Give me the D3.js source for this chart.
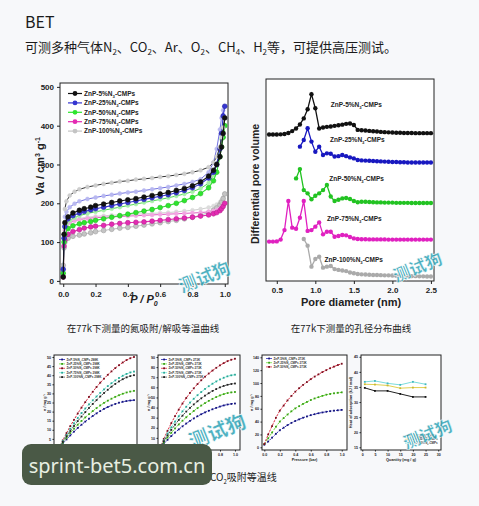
<!DOCTYPE html>
<html>
<head>
<meta charset="utf-8">
<script src="https://cdn.jsdelivr.net/npm/d3@7"></script>
<style>
  body { margin: 0; background: #f7f8fa; }
  svg { display: block; }
</style>
</head>
<body>
<script>
// ---------- data ----------
// N2 isotherms at 77 K (adsorption / desorption branches)
var isoNames = ["ZnP-5%N₃-CMPs", "ZnP-25%N₃-CMPs", "ZnP-50%N₃-CMPs", "ZnP-75%N₃-CMPs", "ZnP-100%N₃-CMPs"];
var isoTicksX = [0, 0.2, 0.4, 0.6, 0.8, 1.0];
var isoTicksY = [0, 100, 200, 300, 400, 500];
var adsP = [0, 0.005, 0.01, 0.03, 0.06, 0.1, 0.13, 0.17, 0.2, 0.25, 0.3, 0.35, 0.4, 0.45, 0.5, 0.55, 0.6, 0.65, 0.7, 0.75, 0.8, 0.85, 0.9, 0.93, 0.95, 0.97, 0.98, 0.99, 1.0];
var ads5 = [10, 120, 150, 165, 175, 182, 186, 190, 194, 198, 202, 206, 209, 212, 216, 220, 224, 228, 233, 238, 245, 255, 270, 285, 300, 320, 345, 380, 420];
var ads25 = [30, 110, 140, 160, 168, 175, 179, 183, 186, 190, 194, 198, 202, 206, 210, 214, 218, 222, 227, 233, 240, 250, 265, 280, 300, 340, 380, 425, 450];
var ads50 = [20, 100, 120, 135, 142, 147, 150, 153, 156, 160, 164, 168, 172, 176, 180, 184, 189, 194, 200, 207, 215, 225, 240, 258, 280, 320, 345, 370, 400];
var ads75 = [10, 90, 105, 120, 127, 132, 136, 139, 141, 143, 146, 148, 150, 151, 152, 154, 156, 158, 160, 162, 164, 167, 170, 173, 176, 181, 186, 192, 200];
var ads100 = [40, 85, 100, 110, 115, 118, 121, 124, 127, 130, 133, 136, 138, 141, 144, 147, 150, 153, 156, 160, 164, 169, 176, 182, 188, 196, 203, 212, 224];
var desP = [1.0, 0.99, 0.98, 0.97, 0.95, 0.93, 0.9, 0.85, 0.8, 0.75, 0.7, 0.65, 0.6, 0.55, 0.5, 0.45, 0.4, 0.35, 0.3, 0.25, 0.2, 0.15, 0.1, 0.07, 0.04, 0.02, 0.01];
var des5 = [420, 395, 370, 345, 320, 305, 293, 285, 280, 276, 273, 270, 268, 265, 263, 261, 258, 256, 253, 250, 246, 242, 236, 230, 220, 205, 185];
var des25 = [450, 440, 420, 390, 340, 305, 280, 262, 255, 250, 246, 242, 239, 236, 233, 230, 228, 225, 222, 219, 215, 211, 205, 199, 190, 178, 165];
var des50 = [400, 385, 365, 340, 300, 272, 252, 238, 230, 224, 219, 214, 210, 206, 202, 198, 194, 190, 186, 182, 178, 174, 168, 163, 156, 148, 138];
var des75 = [200, 195, 190, 186, 182, 180, 178, 176, 175, 174, 173, 172, 171, 170, 169, 168, 167, 166, 165, 164, 163, 161, 158, 155, 150, 142, 130];
var des100 = [224, 215, 208, 203, 197, 193, 189, 185, 182, 180, 178, 176, 175, 174, 173, 172, 171, 170, 169, 168, 166, 164, 161, 158, 153, 145, 132];

// pore size distribution (curves offset vertically, arbitrary units)
var poreTicks = [0.5, 1.0, 1.5, 2.0, 2.5];
var poreDiam = [0.40, 0.45, 0.50, 0.55, 0.60, 0.65, 0.70, 0.75, 0.80, 0.85, 0.90, 0.95, 1.00, 1.05, 1.10, 1.15, 1.20, 1.25, 1.30, 1.35, 1.40, 1.45, 1.50, 1.55, 1.60, 1.65, 1.70, 1.75, 1.80, 1.85, 1.90, 1.95, 2.00, 2.05, 2.10, 2.15, 2.20, 2.25, 2.30, 2.35, 2.40, 2.45, 2.50];
var psd5 = [72.5, 72.5, 72.5, 72.6, 72.8, 73.3, 74.2, 75.5, 77.5, 80.5, 85, 92.5, 85.5, 75.5, 76, 76.3, 76.5, 76.8, 77.1, 77.4, 77.8, 78, 77.2, 74.8, 74.6, 74.5, 74.3, 74.1, 74, 73.8, 73.7, 73.6, 73.5, 73.4, 73.4, 73.3, 73.3, 73.3, 73.2, 73.2, 73.2, 73.2, 73.2];
var psd25 = [null, null, null, null, null, null, null, null, 66.5, 69.8, 75.6, 69, 64, 66.5, 62.4, 63.2, 63, 61.6, 61.8, 62.4, 61.8, 61.2, 60.7, 59.9, 59.7, 59.6, 59.5, 59.4, 59.3, 59.2, 59.1, 59.0, 58.9, 58.9, 58.8, 58.8, 58.7, 58.7, 58.7, 58.7, 58.7, 58.7, 58.7];
var psd50 = [null, null, null, null, null, null, null, 50.8, 55.4, 45, 43.4, 40.5, 42.2, 43.4, 45, 47.5, 41.8, 39.6, 40.2, 40.9, 41.1, 40.6, 39.6, 39.0, 39.2, 39.2, 39.1, 39.0, 38.9, 38.9, 38.8, 38.8, 38.8, 38.7, 38.7, 38.7, 38.7, 38.6, 38.6, 38.6, 38.6, 38.6, 38.6];
var psd75 = [19.5, 19.5, 19.6, 20.5, 25.2, 39.6, 26.4, 25.9, 31.3, 39.6, 24.8, 25.2, 26.9, 29, 23.1, 24.4, 24.4, 21.9, 22.3, 22.8, 22.6, 21.8, 21.1, 20.8, 20.7, 20.7, 20.6, 20.6, 20.6, 20.6, 20.6, 20.5, 20.5, 20.5, 20.5, 20.5, 20.5, 20.5, 20.5, 20.5, 20.5, 20.5, 20.5];
var psd100 = [null, null, null, null, null, null, null, null, null, 20.8, 17.5, 7.1, 10.9, 12, 6.6, 7.1, 7.4, 5.9, 5.5, 5.2, 4.9, 4.2, 3.8, 3.5, 3.3, 3.2, 3.1, 3.0, 3.0, 2.9, 2.8, 2.8, 2.7, 2.6, 2.6, 2.5, 2.5, 2.4, 2.4, 2.3, 2.3, 2.2, 2.2];

// CO2 isotherms (small panels)
var co2P = [0, 0.05, 0.1, 0.15, 0.2, 0.25, 0.3, 0.35, 0.4, 0.45, 0.5, 0.55, 0.6, 0.65, 0.7, 0.75, 0.8, 0.85, 0.9, 0.95, 1.0];
var co2TicksX = [0, 0.2, 0.4, 0.6, 0.8, 1.0];
var co2aNames = ["ZnP-5%N₃-CMPs 298K", "ZnP-25%N₃-CMPs 298K", "ZnP-50%N₃-CMPs 298K", "ZnP-75%N₃-CMPs 298K", "ZnP-100%N₃-CMPs 298K"];
var co2aTicksY = [0, 5, 10, 15, 20, 25, 30, 35, 40, 45, 50];
var co2aBlue = [0, 2.4, 4.7, 6.9, 9, 11, 12.8, 14.5, 16.1, 17.6, 19, 20.3, 21.5, 22.5, 23.4, 24.2, 24.9, 25.4, 25.8, 26.1, 26.3];
var co2aGreen = [0, 2.9, 5.6, 8.2, 10.6, 12.8, 14.9, 16.8, 18.6, 20.3, 21.9, 23.4, 24.8, 26, 27.1, 28.1, 29, 29.8, 30.5, 31, 31.4];
var co2aRed = [0, 4.2, 8.2, 12, 15.5, 19, 22.2, 25.2, 28.1, 30.9, 33.5, 35.9, 38.1, 40.2, 42.1, 43.9, 45.5, 47, 48.3, 49.3, 50];
var co2aCyan = [0, 3.7, 7.2, 10.5, 13.6, 16.5, 19.2, 21.7, 24, 26.2, 28.3, 30.3, 32.2, 34, 35.6, 37.1, 38.5, 39.7, 40.7, 41.5, 42];
var co2aDark = [0, 3.3, 6.4, 9.3, 12.1, 14.8, 17.3, 19.7, 22, 24.2, 26.3, 28.3, 30.2, 32, 33.7, 35.2, 36.6, 37.8, 38.8, 39.5, 40];
var co2bNames = ["ZnP-5%N₃-CMPs 273K", "ZnP-25%N₃-CMPs 273K", "ZnP-50%N₃-CMPs 273K", "ZnP-75%N₃-CMPs 273K", "ZnP-100%N₃-CMPs 273K"];
var co2bTicksY = [0, 10, 20, 30, 40, 50, 60, 70, 80, 90];
var co2bBlue = [0, 4.2, 8.1, 11.8, 15.2, 18.4, 21.4, 24.2, 26.8, 29.2, 31.4, 33.4, 35.2, 36.8, 38.3, 39.7, 41, 42.1, 43, 43.6, 44];
var co2bGreen = [0, 5.4, 10.4, 15, 19.3, 23.3, 27, 30.4, 33.6, 36.6, 39.4, 42, 44.4, 46.6, 48.6, 50.4, 52, 53.3, 54.3, 55, 55.4];
var co2bRed = [0, 9, 17, 24.5, 31.5, 38, 44, 49.5, 54.5, 59, 63.2, 67, 70.5, 73.7, 76.6, 79.3, 81.8, 84, 85.9, 87.3, 88.3];
var co2bCyan = [0, 7.5, 14.2, 20.4, 26.1, 31.4, 36.3, 40.8, 44.9, 48.7, 52.2, 55.4, 58.4, 61.1, 63.6, 65.8, 67.8, 69.5, 70.9, 71.9, 72.5];
var co2bDark = [0, 6.5, 12.4, 17.9, 23, 27.7, 32, 36, 39.7, 43.1, 46.2, 49.1, 51.8, 54.2, 56.4, 58.3, 60, 61.4, 62.5, 63.3, 63.8];
var co2cNames = ["ZnP-5%N₃-CMPs 273K", "ZnP-25%N₃-CMPs 273K", "ZnP-50%N₃-CMPs 273K"];
var co2cTicksY = [0, 20, 40, 60, 80, 100, 120, 140];
var co2cBlue = [4, 9, 15, 21, 26.5, 30.5, 34.5, 38, 41, 43.5, 46, 48, 50, 51.5, 53, 54.2, 55.3, 56.2, 57, 57.6, 58.2];
var co2cGreen = [5, 14, 23, 32, 40, 45.5, 51, 56, 60.5, 64, 67.5, 70.5, 73.5, 76, 78, 80, 81.8, 83, 84, 84.8, 85.5];
var co2cRed = [5, 20, 33, 46, 57, 65, 73, 80, 86.5, 92, 97, 101.5, 106, 110, 113.5, 117, 120, 123, 125.5, 128, 130];

// heat of adsorption
var heatNames = ["ZnP-5%N₃-CMPs", "ZnP-25%N₃-CMPs", "ZnP-50%N₃-CMPs"];
var heatQ = [1, 5, 10, 15, 20, 25];
var heatTicksX = [0, 5, 10, 15, 20, 25, 30];
var heatTicksY = [15, 20, 25, 30, 35, 40, 45];
var heatBlack = [34.7, 33.7, 33.7, 32.7, 31.7, 31.7];
var heatYellow = [35.9, 35.8, 35.5, 34.6, 34.8, 34.8];
var heatCyan = [36.7, 37, 36.2, 35.7, 36.7, 35.9];

// ---------- page ----------
var cjk = "'Noto Sans CJK SC', 'Noto Sans', sans-serif";
var arial = "'Liberation Sans', Arial, sans-serif";

var svg = d3.select("body").append("svg")
    .attr("width", 479)
    .attr("height", 506);

svg.append("rect").attr("width", 479).attr("height", 506).attr("fill", "#f7f8fa");

// header lines
svg.append("text")
    .attr("x", 25).attr("y", 28)
    .style("font-family", cjk).style("font-size", "16px")
    .attr("fill", "#1b1b1b")
    .text("BET");

var headParts = [["可测多种气体N", "2"], ["、CO", "2"], ["、Ar、O", "2"], ["、CH", "4"], ["、H", "2"], ["等，可提供高压测试。", ""]];
var head = svg.append("text")
    .attr("x", 25).attr("y", 52)
    .style("font-family", cjk).style("font-size", "13px")
    .attr("fill", "#1b1b1b");
headParts.forEach(function(p, i) {
    head.append("tspan").attr("dy", i == 0 ? 0 : -3).text(p[0]);
    if (p[1]) head.append("tspan").attr("dy", 3).style("font-size", "8px").text(p[1]);
    else head.append("tspan").attr("dy", 3).text("");
});

// write "ZnP-x%N₃-CMPs" with a real lowered 3
function subName(t, name, size) {
    var parts = name.split("₃");
    var drop = size * 0.3;
    t.append("tspan").text(parts[0]);
    t.append("tspan").attr("dy", drop).style("font-size", (size * 0.65) + "px").text("3");
    t.append("tspan").attr("dy", -drop).text(parts[1]);
}

// little helper for frame + axes
function frame(g, x, y) {
    g.append("rect")
        .attr("x", x.range()[0]).attr("y", y.range()[1])
        .attr("width", x.range()[1] - x.range()[0])
        .attr("height", y.range()[0] - y.range()[1])
        .attr("fill", "#fff").attr("stroke", "#222").attr("stroke-width", 1);
}

function styleAxis(a, size) {
    a.select(".domain").remove();
    a.selectAll("line").attr("stroke", "#222");
    a.selectAll("text")
        .attr("fill", "#222")
        .style("font-family", arial)
        .style("font-weight", "bold")
        .style("font-size", size + "px");
}

// ---------- N2 isotherm panel ----------
var xIso = d3.scaleLinear().domain([-0.02, 1.02]).range([60, 228]);
var yIso = d3.scaleLinear().domain([-8, 510]).range([284, 83]);
var gIso = svg.append("g");
frame(gIso, xIso, yIso);

gIso.append("g")
    .attr("transform", "translate(0," + yIso.range()[0] + ")")
    .call(d3.axisBottom(xIso).tickValues(isoTicksX).tickFormat(d3.format(".1f")).tickSize(3).tickPadding(4))
    .call(styleAxis, 8);
gIso.append("g")
    .attr("transform", "translate(" + xIso.range()[0] + ",0)")
    .call(d3.axisLeft(yIso).tickValues(isoTicksY).tickSize(3).tickPadding(3))
    .call(styleAxis, 8);

var isoColors = ["#111111", "#3535d0", "#2ee52e", "#e42ab2", "#c4c4c4"];
var isoLight = ["#cdcdcd", "#b8b8f0", "#a6f0a6", "#f2a6e2", "#dcdcdc"];
var isoLine = ["#333333", "#7070e0", "#4ed84e", "#e060c4", "#cfcfcf"];
var adsAll = [ads5, ads25, ads50, ads75, ads100];
var desAll = [des5, des25, des50, des75, des100];

var lineIso = d3.line().x(function(d) { return xIso(d[0]); }).y(function(d) { return yIso(d[1]); });

// draw from last to first so black sits on top
d3.range(4, -1, -1).forEach(function(i) {
    var des = desP.map(function(p, j) { return [p, desAll[i][j]]; });
    var ads = adsP.map(function(p, j) { return [p, adsAll[i][j]]; });
    gIso.append("path").datum(des)
        .attr("d", lineIso).attr("fill", "none")
        .attr("stroke", isoLine[i]).attr("stroke-width", 1);
    gIso.selectAll(null).data(des).enter().append("circle")
        .attr("cx", function(d) { return xIso(d[0]); })
        .attr("cy", function(d) { return yIso(d[1]); })
        .attr("r", 2)
        .attr("fill", isoLight[i]).attr("stroke", isoLight[i]).attr("stroke-width", 0.5);
    gIso.append("path").datum(ads)
        .attr("d", lineIso).attr("fill", "none")
        .attr("stroke", isoColors[i]).attr("stroke-width", 1.1);
    gIso.selectAll(null).data(ads).enter().append("circle")
        .attr("cx", function(d) { return xIso(d[0]); })
        .attr("cy", function(d) { return yIso(d[1]); })
        .attr("r", 2.4)
        .attr("fill", isoColors[i]).attr("stroke", d3.color(isoColors[i]).darker(0.6)).attr("stroke-width", 0.6);
});

// legend
isoNames.forEach(function(n, i) {
    var ly = 93.5 + i * 9.4;
    gIso.append("line").attr("x1", 68).attr("x2", 82).attr("y1", ly).attr("y2", ly)
        .attr("stroke", isoColors[i]).attr("stroke-width", 1.2);
    gIso.append("circle").attr("cx", 75).attr("cy", ly).attr("r", 2.4).attr("fill", isoColors[i]);
    var t = gIso.append("text").attr("x", 84).attr("y", ly + 2.3)
        .style("font-family", arial).style("font-weight", "bold").style("font-size", "6.5px")
        .attr("fill", "#222");
    subName(t, n, 6.5);
});

// axis titles
var yt = gIso.append("text")
    .attr("transform", "translate(44,166) rotate(-90)")
    .attr("text-anchor", "middle")
    .style("font-family", arial).style("font-weight", "bold").style("font-size", "11px")
    .attr("fill", "#222");
yt.append("tspan").text("Va / cm");
yt.append("tspan").attr("dy", -4).style("font-size", "7px").text("3");
yt.append("tspan").attr("dy", 4).text(" g");
yt.append("tspan").attr("dy", -4).style("font-size", "7px").text("-1");

var xt = gIso.append("text")
    .attr("x", 144).attr("y", 303)
    .attr("text-anchor", "middle")
    .style("font-family", arial).style("font-weight", "bold").style("font-style", "italic").style("font-size", "11px")
    .attr("fill", "#222");
xt.append("tspan").text("P / P");
xt.append("tspan").attr("dy", 2.5).style("font-size", "7px").text("0");

// ---------- pore size distribution panel ----------
var xPore = d3.scaleLinear().domain([0.36, 2.54]).range([266, 434]);
var yPore = d3.scaleLinear().domain([0, 100]).range([281, 79]);
var gPore = svg.append("g");
frame(gPore, xPore, yPore);

gPore.append("g")
    .attr("transform", "translate(0," + yPore.range()[0] + ")")
    .call(d3.axisBottom(xPore).tickValues(poreTicks).tickFormat(d3.format(".1f")).tickSize(3).tickPadding(3))
    .call(styleAxis, 8);

var psdAll = [psd5, psd25, psd50, psd75, psd100];
var psdColors = ["#111111", "#1818c0", "#22c322", "#e020c0", "#aaaaaa"];
var linePore = d3.line().x(function(d) { return xPore(d[0]); }).y(function(d) { return yPore(d[1]); });

psdAll.forEach(function(s, i) {
    var pts = poreDiam.map(function(d, j) { return [d, s[j]]; })
        .filter(function(d) { return d[1] != null; });
    gPore.append("path").datum(pts)
        .attr("d", linePore).attr("fill", "none")
        .attr("stroke", psdColors[i]).attr("stroke-width", 1.3);
    gPore.selectAll(null).data(pts).enter().append("circle")
        .attr("cx", function(d) { return xPore(d[0]); })
        .attr("cy", function(d) { return yPore(d[1]); })
        .attr("r", 2.2)
        .attr("fill", psdColors[i]);
});

// curve labels
var psdLabelAt = [[1.20, 86], [1.19, 68.6], [1.18, 49.5], [1.15, 29.7], [1.12, 9.4]];
isoNames.forEach(function(n, i) {
    var t = gPore.append("text")
        .attr("x", xPore(psdLabelAt[i][0])).attr("y", yPore(psdLabelAt[i][1]))
        .style("font-family", arial).style("font-weight", "bold").style("font-size", "6.5px")
        .attr("fill", "#222");
    subName(t, n, 6.5);
});

gPore.append("text")
    .attr("x", 351).attr("y", 306)
    .attr("text-anchor", "middle")
    .style("font-family", arial).style("font-weight", "bold").style("font-size", "11px")
    .attr("fill", "#222").text("Pore diameter (nm)");
gPore.append("text")
    .attr("transform", "translate(259,184) rotate(-90)")
    .attr("text-anchor", "middle")
    .style("font-family", arial).style("font-weight", "bold").style("font-size", "10.5px")
    .attr("fill", "#222").text("Differential pore volume");

// captions
svg.append("text").attr("x", 143).attr("y", 332).attr("text-anchor", "middle")
    .style("font-family", cjk).style("font-size", "9.5px").attr("fill", "#222")
    .text("在77k下测量的氮吸附/解吸等温曲线");
svg.append("text").attr("x", 351).attr("y", 332).attr("text-anchor", "middle")
    .style("font-family", cjk).style("font-size", "9.5px").attr("fill", "#222")
    .text("在77k下测量的孔径分布曲线");

// ---------- small CO2 / heat panels ----------
function smallPanel(cfg) {
    var g = svg.append("g");
    var x = cfg.x, y = cfg.y;
    frame(g, x, y);
    g.append("g")
        .attr("transform", "translate(0," + y.range()[0] + ")")
        .call(d3.axisBottom(x).tickValues(cfg.ticksX).tickFormat(cfg.fmtX).tickSize(1.5).tickPadding(1.5))
        .call(styleAxis, 3.6);
    g.append("g")
        .attr("transform", "translate(" + x.range()[0] + ",0)")
        .call(d3.axisLeft(y).tickValues(cfg.ticksY).tickSize(1.5).tickPadding(1.5))
        .call(styleAxis, 3.6);

    var line = d3.line().x(function(d) { return x(d[0]); }).y(function(d) { return y(d[1]); });
    cfg.series.forEach(function(s) {
        var pts = cfg.xs.map(function(v, j) { return [v, s.values[j]]; });
        g.append("path").datum(pts)
            .attr("d", line).attr("fill", "none")
            .attr("stroke", s.color).attr("stroke-width", 1)
            .attr("stroke-dasharray", cfg.dashed ? "2.2,1.2" : null);
        g.selectAll(null).data(pts).enter().append("rect")
            .attr("x", function(d) { return x(d[0]) - 0.9; })
            .attr("y", function(d) { return y(d[1]) - 0.9; })
            .attr("width", 1.8).attr("height", 1.8)
            .attr("fill", s.mark);
    });

    // legend
    cfg.legend.forEach(function(s, i) {
        var ly = cfg.legendY + i * cfg.legendStep;
        g.append("line").attr("x1", cfg.legendX).attr("x2", cfg.legendX + 6)
            .attr("y1", ly).attr("y2", ly).attr("stroke", s.color).attr("stroke-width", 0.8);
        g.append("rect").attr("x", cfg.legendX + 2.2).attr("y", ly - 0.9)
            .attr("width", 1.8).attr("height", 1.8).attr("fill", s.mark);
        var t = g.append("text").attr("x", cfg.legendX + 7.5).attr("y", ly + 1.1)
            .style("font-family", arial).style("font-weight", "bold").style("font-size", "3px")
            .attr("fill", "#333");
        subName(t, s.name, 3);
    });

    g.append("text")
        .attr("x", (x.range()[0] + x.range()[1]) / 2).attr("y", y.range()[0] + 11)
        .attr("text-anchor", "middle")
        .style("font-family", arial).style("font-weight", "bold").style("font-size", "3.8px")
        .attr("fill", "#222").text(cfg.xTitle);
    g.append("text")
        .attr("transform", "translate(" + (x.range()[0] - cfg.yTitleGap) + "," + ((y.range()[0] + y.range()[1]) / 2) + ") rotate(-90)")
        .attr("text-anchor", "middle")
        .style("font-family", arial).style("font-weight", "bold").style("font-size", "3.8px")
        .attr("fill", "#222").text(cfg.yTitle);
}

var f1 = d3.format(".1f");
var cBlue = {color: "#2a2ab8", mark: "#15157a"};
var cGreen = {color: "#6fe03a", mark: "#3aa018"};
var cRed = {color: "#d8283e", mark: "#7a1020"};
var cCyan = {color: "#6ee6d6", mark: "#2aa896"};
var cDark = {color: "#555555", mark: "#222222"};
function ser(c, name, values) { return {color: c.color, mark: c.mark, name: name, values: values}; }

var seriesA = [ser(cBlue, co2aNames[0], co2aBlue), ser(cGreen, co2aNames[1], co2aGreen), ser(cRed, co2aNames[2], co2aRed), ser(cCyan, co2aNames[3], co2aCyan), ser(cDark, co2aNames[4], co2aDark)];
smallPanel({
    x: d3.scaleLinear().domain([-0.067, 1.04]).range([54, 137]),
    y: d3.scaleLinear().domain([-1.1, 51.1]).range([450, 355]),
    xs: co2P, ticksX: co2TicksX, fmtX: f1, ticksY: co2aTicksY,
    series: seriesA, legend: seriesA, dashed: true,
    legendX: 59, legendY: 359.5, legendStep: 4.4,
    xTitle: "Pressure (bar)", yTitle: "n / mg g⁻¹", yTitleGap: 8
});

var seriesB = [ser(cBlue, co2bNames[0], co2bBlue), ser(cGreen, co2bNames[1], co2bGreen), ser(cRed, co2bNames[2], co2bRed), ser(cCyan, co2bNames[3], co2bCyan), ser(cDark, co2bNames[4], co2bDark)];
smallPanel({
    x: d3.scaleLinear().domain([-0.027, 1.067]).range([158, 240]),
    y: d3.scaleLinear().domain([-2, 92]).range([450, 355]),
    xs: co2P, ticksX: co2TicksX, fmtX: f1, ticksY: co2bTicksY,
    series: seriesB, legend: seriesB, dashed: true,
    legendX: 161, legendY: 359.5, legendStep: 4.4,
    xTitle: "Pressure (bar)", yTitle: "n / mg g⁻¹", yTitleGap: 8
});

var seriesC = [ser(cBlue, co2cNames[0], co2cBlue), ser(cGreen, co2cNames[1], co2cGreen), ser(cRed, co2cNames[2], co2cRed)];
smallPanel({
    x: d3.scaleLinear().domain([-0.03, 1.068]).range([262, 347]),
    y: d3.scaleLinear().domain([-4.2, 143.6]).range([450, 355]),
    xs: co2P, ticksX: co2TicksX, fmtX: f1, ticksY: co2cTicksY,
    series: seriesC, legend: seriesC, dashed: true,
    legendX: 266, legendY: 358.5, legendStep: 4.2,
    xTitle: "Pressure (bar)", yTitle: "n / mg g⁻¹", yTitleGap: 9
});

var hBlack = {color: "#222222", mark: "#111111"};
var hYellow = {color: "#e0d050", mark: "#c8b830"};
var hCyan = {color: "#7adcdc", mark: "#40b8c0"};
var seriesD = [ser(hBlack, heatNames[0], heatBlack), ser(hYellow, heatNames[1], heatYellow), ser(hCyan, heatNames[2], heatCyan)];
smallPanel({
    x: d3.scaleLinear().domain([-0.5, 31.1]).range([361, 441]),
    y: d3.scaleLinear().domain([14.1, 45.6]).range([450, 355]),
    xs: heatQ, ticksX: heatTicksX, fmtX: d3.format("d"), ticksY: heatTicksY,
    series: seriesD, legend: seriesD, dashed: false,
    legendX: 405, legendY: 435.5, legendStep: 3.8,
    xTitle: "Quantity (mg / g)", yTitle: "Heat of adsorption (kJ / mol)", yTitleGap: 9
});

// caption under the small panels
var cap = svg.append("text").attr("x", 210).attr("y", 481)
    .style("font-family", cjk).style("font-size", "10px").attr("fill", "#222");
cap.append("tspan").text("CO");
cap.append("tspan").attr("dy", 2.5).style("font-size", "6px").text("2");
cap.append("tspan").attr("dy", -2.5).text("吸附等温线");

// ---------- watermarks ----------
var marks = [[207, 283, 18], [420, 273, 17], [220, 438, 20], [430, 440, 17]];
marks.forEach(function(m) {
    svg.append("text")
        .attr("transform", "translate(" + m[0] + "," + m[1] + ") rotate(-22)")
        .attr("text-anchor", "middle")
        .style("font-family", cjk).style("font-weight", "900").style("font-size", m[2] + "px")
        .attr("fill", "#2ea3b6").attr("fill-opacity", 0.85)
        .attr("stroke", "#ffffff").attr("stroke-width", 0.5)
        .text("测试狗");
});

svg.append("rect")
    .attr("x", 22).attr("y", 444).attr("width", 190).attr("height", 41).attr("rx", 9)
    .attr("fill", "#4a5946");
svg.append("text")
    .attr("x", 117).attr("y", 473).attr("text-anchor", "middle")
    .style("font-family", "'Noto Sans', sans-serif").style("font-size", "20px")
    .attr("fill", "#e8efe2").text("sprint-bet5.com.cn");
</script>
</body>
</html>
